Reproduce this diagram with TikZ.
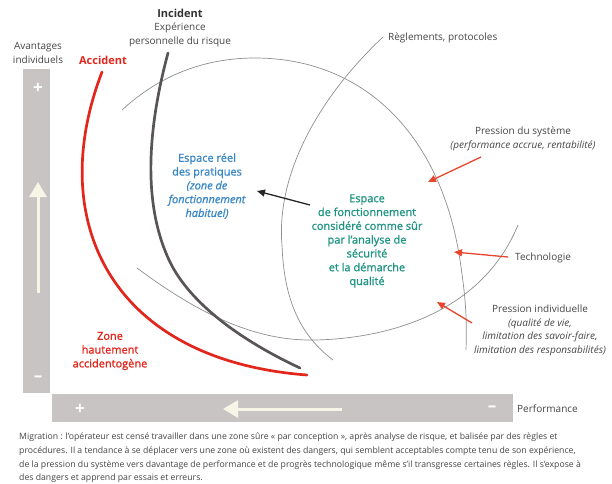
\documentclass[tikz,border=0pt]{standalone}
\usepackage{fontspec}
\setmainfont{Open Sans}
\newfontfamily\semifont{Open Sans}[FakeBold=1.2]
\usetikzlibrary{arrows.meta}

\definecolor{barGray}{HTML}{C8C4C4}
\definecolor{cream}{HTML}{F7F5E6}
\definecolor{accRed}{HTML}{E2261B}
\definecolor{arrRed}{HTML}{E8472D}
\definecolor{incGray}{HTML}{595456}
\definecolor{thinGray}{HTML}{8E8E8E}
\definecolor{txtGray}{HTML}{454545}
\definecolor{pracBlue}{HTML}{3A87C6}
\definecolor{safeTeal}{HTML}{1F9483}

\begin{document}
\begin{tikzpicture}[x=1pt,y=-1pt,
  every node/.style={inner sep=0pt,align=center,text=txtGray,font=\fontsize{10}{13.7}\selectfont},
  bar/.style={fill=barGray,draw=none},
  sign/.style={text=white,font=\fontsize{17}{17}\selectfont\bfseries},
  barArrow/.style={draw=cream,line width=3pt,-{Triangle[length=15pt,width=17pt]}},
  thinArc/.style={thinGray,line width=0.7pt},
  thickArc/.style={line width=2.7pt,line cap=round},
  pushArrow/.style={arrRed,line width=1.3pt,-{Triangle[length=8pt,width=7pt]}},
  bigText/.style={font=\semifont\fontsize{11}{13.8}\selectfont}]
\useasboundingbox (0,0) rectangle (612,483);

% axes
\fill[bar] (23,69) rectangle (50,393);
\fill[bar] (52,394) rectangle (513,422);
\node[sign] (vplus) at (38,88) {+};
\node[sign] (vminus) at (38,379) {–};
\node[sign] (hplus) at (80,409) {+};
\node[sign] (hminus) at (492,409) {–};
\coordinate (vfrom) at (38,293);
\coordinate (vto) at (38,182);
\coordinate (hfrom) at (342,409);
\coordinate (hto) at (223,409);
\draw[barArrow] (vfrom) -- (vto);
\draw[barArrow] (hfrom) -- (hto);
\node (avant) at (38,53) {Avantages\\individuels};
\node[anchor=west] (perf) at (517,409) {Performance};

% curves
\draw[thinArc] (122,110) .. controls (160,75) and (205,58) .. (255,58)
  .. controls (360,58) and (440,130) .. (460,260)
  .. controls (466,300) and (467,320) .. (466,350);
\draw[thinArc] (383,37) .. controls (318,98) and (276,175) .. (282,245)
  .. controls (284,300) and (300,335) .. (333,360);
\draw[thinArc] (137,268) .. controls (200,315) and (255,340) .. (310,340)
  .. controls (370,340) and (478,322) .. (518,225);
\draw[thickArc,accRed] (102,72) .. controls (45,220) and (110,360) .. (307,375);
\draw[thickArc,incGray] (168,53) .. controls (150,120) and (140,200) .. (170,262)
  .. controls (190,303) and (240,340) .. (300,368);

% labels
\node[text=accRed,font=\fontsize{11}{13.8}\selectfont\bfseries] (accident) at (103,60) {Accident};
\node (incident) at (180,28) {\textcolor{black!80}{\fontsize{11}{13.8}\selectfont\bfseries Incident}\\Expérience\\personnelle du risque};
\node[anchor=west] (regles) at (388,38) {Règlements, protocoles};
\node (systeme) at (523,139) {Pression du système\\\itshape (performance accrue, rentabilité)};
\node[anchor=west] (techno) at (515,258) {Technologie};
\node (indiv) at (540,330.5) {Pression individuelle\\\itshape (qualité de vie,\\\itshape limitation des savoir-faire,\\\itshape limitation des responsabilités)};
\node[bigText,text=pracBlue] (pratiques) at (207,186) {Espace réel\\des pratiques\\\itshape (zone de\\\itshape fonctionnement\\\itshape habituel)};
\node[bigText,text=safeTeal] (securite) at (367,241) {Espace\\de fonctionnement\\considéré comme sûr\\par l’analyse de\\sécurité\\et la démarche\\qualité};
\node[bigText,text=accRed] (zone) at (110,351) {Zone\\hautement\\accidentogène};

% arrows
\coordinate (blackfrom) at (310,205);
\coordinate (blackto) at (257,191);
\draw[line width=1.3pt,black!85,-{Triangle[length=8pt,width=7pt]}] (blackfrom) -- (blackto);
\coordinate (sysfrom) at (481,157);
\coordinate (systo) at (428,182);
\draw[pushArrow] (sysfrom) -- (systo);
\coordinate (techfrom) at (508,257);
\coordinate (techto) at (454,252);
\draw[pushArrow] (techfrom) -- (techto);
\coordinate (indfrom) at (472,323);
\coordinate (indto) at (437,302);
\draw[pushArrow] (indfrom) -- (indto);

% caption
\node[anchor=north west,align=left,font=\fontsize{8.7}{13.7}\selectfont] (legende) at (19,433) {Migration : l’opérateur est censé travailler dans une zone sûre « par conception », après analyse de risque, et balisée par des règles et\\procédures. Il a tendance à se déplacer vers une zone où existent des dangers, qui semblent acceptables compte tenu de son expérience,\\de la pression du système vers davantage de performance et de progrès technologique même s’il transgresse certaines règles. Il s’expose à\\des dangers et apprend par essais et erreurs.};
\end{tikzpicture}
\end{document}
